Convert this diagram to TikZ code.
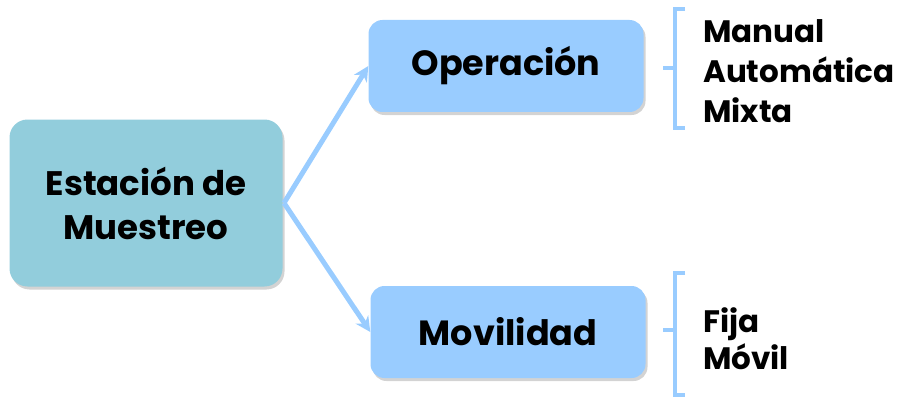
\documentclass[tikz,border=0pt]{standalone}
\usepackage{fontspec}
\setmainfont{Poppins}
\usetikzlibrary{shadows,arrows.meta}
\definecolor{mainfill}{HTML}{92CDDC}
\definecolor{subfill}{HTML}{99CCFF}
\definecolor{linkcol}{HTML}{99CCFF}
\tikzset{
  box/.style={rounded corners=18pt, inner sep=0pt, font=\bfseries,
    drop shadow={shadow xshift=2pt, shadow yshift=-3pt, opacity=0.35}},
  mainbox/.style={box, fill=mainfill, minimum width=273pt, minimum height=167pt, font=\bfseries\fontsize{34}{44}\selectfont, align=center},
  subbox/.style={box, fill=subfill, minimum width=275pt, minimum height=92pt, rounded corners=14pt, font=\bfseries\fontsize{35}{40}\selectfont},
  link/.style={draw=linkcol, line width=5pt, -{Stealth[length=15pt,width=15pt]}},
  brace/.style={draw=linkcol, line width=4pt},
  item/.style={font=\bfseries\fontsize{31}{40}\selectfont, align=left, anchor=west, inner sep=0pt},
  item2/.style={item, font=\bfseries\fontsize{31}{37}\selectfont}
}
\begin{document}
\begin{tikzpicture}[x=1pt,y=-1pt]
\useasboundingbox (0,0) rectangle (903,404);
\node[mainbox] (est) at (146,203) {Estación de\\Muestreo};
\node[subbox] (op) at (506,66) {Operación};
\node[subbox] (mov) at (508,332) {Movilidad};
\coordinate (src) at (284,203);
\draw[link] (src) -- (op.west);
\draw[link] (src) -- (mov.west);
% braces
\draw[brace] (685,9) -- (675,9) -- (675,68) -- (663,68) -- (675,68) -- (675,128) -- (685,128);
\draw[brace] (685,273) -- (675,273) -- (675,330) -- (663,330) -- (675,330) -- (675,395) -- (685,395);
\node[item] (list1) at (703,71) {Manual\\Automática\\Mixta};
\node[item2] (list2) at (703,339) {Fija\\Móvil};
\end{tikzpicture}
\end{document}
